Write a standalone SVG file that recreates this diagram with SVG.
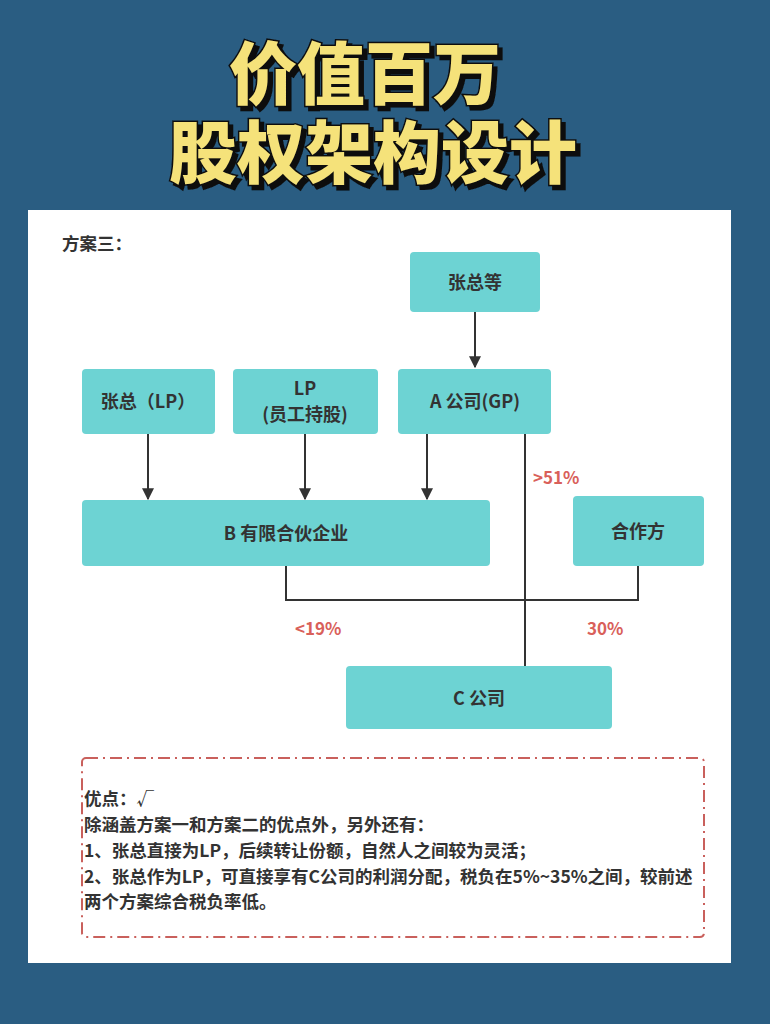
<svg xmlns="http://www.w3.org/2000/svg" width="770" height="1024" viewBox="0 0 770 1024">
<style>
.n{fill:#6dd3d3}
.t{font-family:"Noto Sans CJK SC","Noto Sans",sans-serif;font-weight:bold;font-size:18px;fill:#333;text-anchor:middle}
.p{font-family:"Noto Sans CJK SC","Noto Sans",sans-serif;font-weight:bold;font-size:17px;fill:#d9605a}
.b{font-family:"Noto Sans CJK SC","Noto Sans",sans-serif;font-weight:bold;font-size:17.5px;fill:#333}
.c{stroke:#333;stroke-width:2;fill:none}
.h{font-family:"Noto Sans CJK SC",sans-serif;font-weight:900;font-size:68px;text-anchor:middle;fill:#f5e27a;stroke:#111;stroke-width:3;paint-order:stroke}
</style>
<defs>
<marker id="ar" viewBox="0 0 10 10" refX="9" refY="5" markerWidth="12" markerHeight="14" orient="auto" markerUnits="userSpaceOnUse"><path d="M0,0L10,5L0,10z" fill="#333"/></marker>
<filter id="sh" x="-10%" y="-10%" width="130%" height="130%"><feDropShadow dx="4" dy="4" stdDeviation="0" flood-color="#111"/></filter>
</defs>
<rect width="770" height="1024" fill="#2a5d82"/>
<g id="title" filter="url(#sh)">
<text class="h" x="365" y="99">价值百万</text>
<text class="h" x="373" y="178">股权架构设计</text>
</g>
<rect x="28" y="210" width="703" height="753" fill="#fff"/>
<text class="b" x="62" y="250" font-size="16">方案三：</text>
<g id="connectors">
<line class="c" x1="475" y1="312" x2="475" y2="367" marker-end="url(#ar)"/>
<line class="c" x1="148" y1="434" x2="148" y2="499" marker-end="url(#ar)"/>
<line class="c" x1="305" y1="434" x2="305" y2="499" marker-end="url(#ar)"/>
<line class="c" x1="427" y1="434" x2="427" y2="499" marker-end="url(#ar)"/>
<line class="c" x1="525" y1="434" x2="525" y2="666"/>
<polyline class="c" points="286,566 286,600 638,600 638,566"/>
</g>
<g id="n1"><rect class="n" x="410" y="252" width="130" height="60" rx="4"/><text class="t" x="475" y="289">张总等</text></g>
<g id="n2"><rect class="n" x="82" y="369" width="133" height="65" rx="4"/><text class="t" x="148" y="408">张总（LP）</text></g>
<g id="n3"><rect class="n" x="233" y="369" width="145" height="65" rx="4"/><text class="t" x="305" y="395">LP</text><text class="t" x="305" y="421">(员工持股)</text></g>
<g id="n4"><rect class="n" x="398" y="369" width="153" height="65" rx="4"/><text class="t" x="475" y="408">A 公司(GP)</text></g>
<g id="n5"><rect class="n" x="82" y="500" width="408" height="66" rx="4"/><text class="t" x="286" y="540">B 有限合伙企业</text></g>
<g id="n6"><rect class="n" x="573" y="496" width="131" height="70" rx="4"/><text class="t" x="638" y="538">合作方</text></g>
<g id="n7"><rect class="n" x="346" y="666" width="266" height="63" rx="4"/><text class="t" x="479" y="705">C 公司</text></g>
<text class="p" x="533" y="484">&gt;51%</text>
<text class="p" x="295" y="635">&lt;19%</text>
<text class="p" x="587" y="635">30%</text>
<g id="note">
<rect x="82" y="758" width="622" height="179" rx="4" fill="none" stroke="#c9605c" stroke-width="2" stroke-dasharray="12,5,2,5"/>
<text class="b" x="84" y="805">优点：√</text>
<text class="b" x="84" y="831">除涵盖方案一和方案二的优点外，另外还有：</text>
<text class="b" x="84" y="857">1、张总直接为LP，后续转让份额，自然人之间较为灵活；</text>
<text class="b" x="84" y="883">2、张总作为LP，可直接享有C公司的利润分配，税负在5%~35%之间，较前述</text>
<text class="b" x="84" y="908">两个方案综合税负率低。</text>
</g>
</svg>
